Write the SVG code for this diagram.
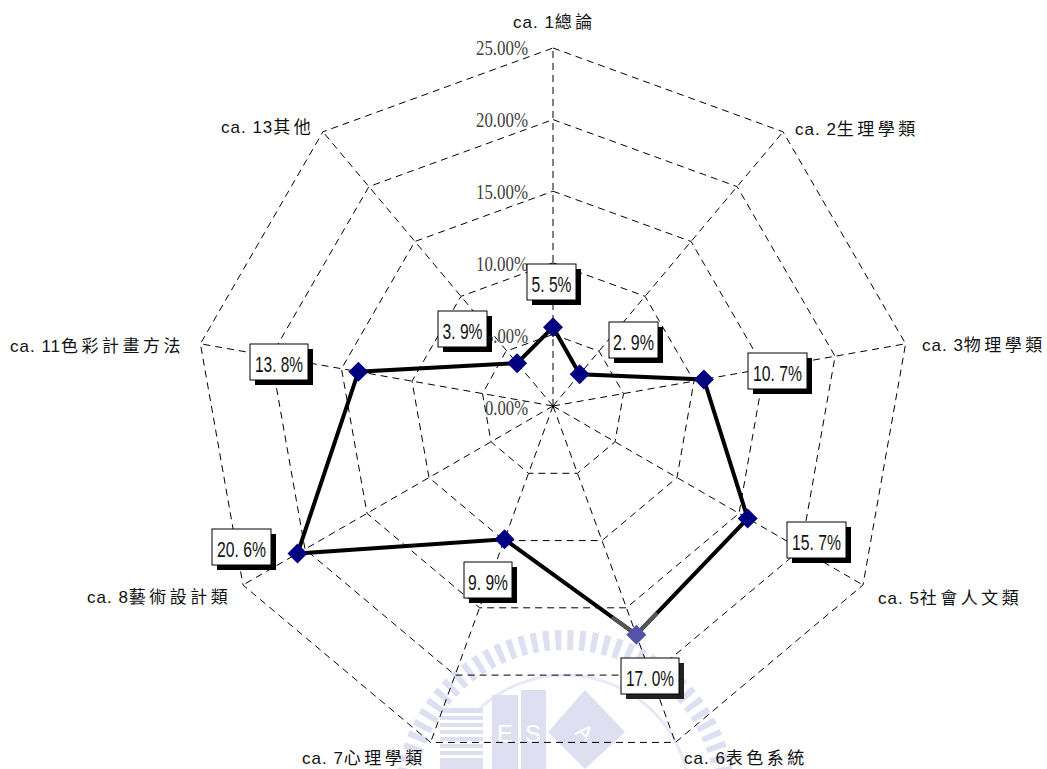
<svg xmlns="http://www.w3.org/2000/svg" width="1047" height="769" viewBox="0 0 1047 769">
<defs>
<style>
.grid{fill:none;stroke:#000;stroke-width:1;stroke-dasharray:7,5}
.scale{font-family:"Liberation Serif","DejaVu Serif",serif;font-size:21px;fill:#404040;text-anchor:end}
.axis{font-family:"Liberation Sans","Noto Sans CJK TC",sans-serif;font-size:17px;fill:#111;letter-spacing:1px}
.cjk{letter-spacing:3.5px}
.box{fill:#fff;stroke:#000;stroke-width:1}
.shadow{fill:#000}
.val{font-family:"Liberation Sans","DejaVu Sans",sans-serif;font-size:22px;fill:#111;text-anchor:middle}
.wm{fill:#D3D6EE}
</style>
<symbol id="dia" viewBox="-10 -10 20 20" overflow="visible"><polygon points="0,-10 10,0 0,10 -10,0"/></symbol>
</defs>
<rect width="1047" height="769" fill="#fff"/>
<g id="watermark" opacity="0.75">
<circle cx="565" cy="800" r="160" fill="none" stroke="#D3D6EE" stroke-width="20" stroke-dasharray="6,6"/>
<circle cx="565" cy="800" r="125" fill="none" stroke="#E0E2F3" stroke-width="3"/>
<rect class="wm" x="440" y="708" width="43" height="61"/>
<g fill="#fff"><rect x="440" y="713" width="43" height="3"/><rect x="440" y="720" width="43" height="3"/><rect x="440" y="727" width="43" height="3"/><rect x="440" y="734" width="43" height="3"/><rect x="440" y="741" width="43" height="3"/><rect x="440" y="748" width="43" height="3"/><rect x="440" y="755" width="43" height="3"/></g>
<rect class="wm" x="492" y="695" width="26" height="74"/>
<rect class="wm" x="521" y="690" width="25" height="79"/>
<polygon class="wm" points="585,690 625,732 585,769 548,732"/>
<text x="505" y="742" font-family="Liberation Sans,sans-serif" font-size="24" fill="#fff" text-anchor="middle">E</text>
<text x="533" y="742" font-family="Liberation Sans,sans-serif" font-size="24" fill="#fff" text-anchor="middle">S</text>
<text x="585" y="740" font-family="Liberation Sans,sans-serif" font-size="22" fill="#fff" text-anchor="middle" transform="rotate(40 585 732)">A</text>
</g>
<g id="grid">
<polygon class="grid" points="553,48 783.1,131.8 905.6,343.8 863,585 675.4,742.4 430.6,742.4 243,585 200.4,343.8 322.9,131.8"/>
<polygon class="grid" points="553,119.6 737.1,186.6 835.1,356.3 801,549.2 651,675.1 455,675.1 305,549.2 270.9,356.3 368.9,186.6"/>
<polygon class="grid" points="553,191.2 691.1,241.5 764.5,368.7 739,513.4 626.5,607.8 479.5,607.8 367,513.4 341.5,368.7 414.9,241.5"/>
<polygon class="grid" points="553,262.8 645,296.3 694,381.1 677,477.6 602,540.6 504,540.6 429,477.6 412,381.1 461,296.3"/>
<polygon class="grid" points="553,334.4 599,351.2 623.5,393.6 615,441.8 577.5,473.3 528.5,473.3 491,441.8 482.5,393.6 506,351.2"/>
<path class="grid" d="M553,406L553,48M553,406L783.1,131.8M553,406L905.6,343.8M553,406L863,585M553,406L675.4,742.4M553,406L430.6,742.4M553,406L243,585M553,406L200.4,343.8M553,406L322.9,131.8"/>
</g>
<g id="scale">
<text class="scale" x="528" y="55" textLength="52" lengthAdjust="spacingAndGlyphs">25.00%</text>
<text class="scale" x="528" y="127" textLength="52" lengthAdjust="spacingAndGlyphs">20.00%</text>
<text class="scale" x="528" y="199" textLength="52" lengthAdjust="spacingAndGlyphs">15.00%</text>
<text class="scale" x="528" y="271" textLength="52" lengthAdjust="spacingAndGlyphs">10.00%</text>
<text class="scale" x="528" y="343" textLength="43" lengthAdjust="spacingAndGlyphs">5.00%</text>
<text class="scale" x="528" y="415" textLength="43" lengthAdjust="spacingAndGlyphs">0.00%</text>
</g>
<g id="connectors">
<polygon points="553,327.2 579.7,374.2 703.9,379.4 747.7,518.4 636.3,634.7 504.5,539.2 297.5,553.5 358.4,371.7 517.1,363.2" fill="none" stroke="#000" stroke-width="4" stroke-linejoin="miter"/>
<path d="M612,617.1L636.3,634.7L657.1,613" fill="none" stroke="#555" stroke-width="4"/>
</g>
<g id="markers" fill="#000080">
<use href="#dia" x="543" y="317.2" width="20" height="20"/>
<use href="#dia" x="569.7" y="364.2" width="20" height="20"/>
<use href="#dia" x="693.9" y="369.4" width="20" height="20"/>
<use href="#dia" x="737.7" y="508.4" width="20" height="20"/>
<use href="#dia" x="494.5" y="529.2" width="20" height="20"/>
<use href="#dia" x="287.5" y="543.5" width="20" height="20"/>
<use href="#dia" x="348.4" y="361.7" width="20" height="20"/>
<use href="#dia" x="507.1" y="353.2" width="20" height="20"/>
<use href="#dia" x="626.3" y="624.7" width="20" height="20" fill="#5353A8"/>
</g>
<g id="label-ca1"><rect class="shadow" x="532" y="269" width="49" height="36"/><rect class="box" x="527" y="264" width="49" height="36"/><text class="val" x="551.5" y="291.5" textLength="40" lengthAdjust="spacingAndGlyphs">5. 5%</text></g>
<g id="label-ca2"><rect class="shadow" x="614" y="327" width="49" height="36"/><rect class="box" x="609" y="322" width="49" height="36"/><text class="val" x="633.5" y="349.5" textLength="41" lengthAdjust="spacingAndGlyphs">2. 9%</text></g>
<g id="label-ca13"><rect class="shadow" x="443" y="316" width="49" height="36"/><rect class="box" x="438" y="311" width="49" height="36"/><text class="val" x="462.5" y="338.5" textLength="40" lengthAdjust="spacingAndGlyphs">3. 9%</text></g>
<g id="label-ca3"><rect class="shadow" x="753" y="358" width="59" height="36"/><rect class="box" x="748" y="353" width="59" height="36"/><text class="val" x="777.5" y="380.5" textLength="49" lengthAdjust="spacingAndGlyphs">10. 7%</text></g>
<g id="label-ca5"><rect class="shadow" x="792" y="527" width="59" height="36"/><rect class="box" x="787" y="522" width="59" height="36"/><text class="val" x="816.5" y="549.5" textLength="49" lengthAdjust="spacingAndGlyphs">15. 7%</text></g>
<g id="label-ca11"><rect class="shadow" x="255" y="349" width="58" height="36"/><rect class="box" x="250" y="344" width="58" height="36"/><text class="val" x="279" y="371.5" textLength="48" lengthAdjust="spacingAndGlyphs">13. 8%</text></g>
<g id="label-ca8"><rect class="shadow" x="217" y="534" width="59" height="36"/><rect class="box" x="212" y="529" width="59" height="36"/><text class="val" x="241.5" y="556.5" textLength="49" lengthAdjust="spacingAndGlyphs">20. 6%</text></g>
<g id="label-ca7"><rect class="shadow" x="469" y="567" width="48" height="36"/><rect class="box" x="464" y="562" width="48" height="36"/><text class="val" x="488" y="589.5" textLength="40" lengthAdjust="spacingAndGlyphs">9. 9%</text></g>
<g id="label-ca6"><rect x="626" y="663" width="58" height="36" fill="#222"/><rect class="box" x="621" y="658" width="58" height="36" stroke="#777"/><text class="val" x="650" y="685.5" textLength="48" lengthAdjust="spacingAndGlyphs" fill="#555">17. 0%</text></g>
<g id="axis-labels">
<text class="axis" x="513" y="28">ca. 1<tspan class="cjk">總論</tspan></text>
<text class="axis" x="795" y="135">ca. 2<tspan class="cjk">生理學類</tspan></text>
<text class="axis" x="922" y="351">ca. 3<tspan class="cjk">物理學類</tspan></text>
<text class="axis" x="878" y="604">ca. 5<tspan class="cjk">社會人文類</tspan></text>
<text class="axis" x="684" y="764">ca. 6<tspan class="cjk">表色系統</tspan></text>
<text class="axis" x="302" y="764">ca. 7<tspan class="cjk">心理學類</tspan></text>
<text class="axis" x="87" y="603">ca. 8<tspan class="cjk">藝術設計類</tspan></text>
<text class="axis" x="10" y="352">ca. 11<tspan class="cjk">色彩計畫方法</tspan></text>
<text class="axis" x="221" y="133">ca. 13<tspan class="cjk">其他</tspan></text>
</g>
</svg>
